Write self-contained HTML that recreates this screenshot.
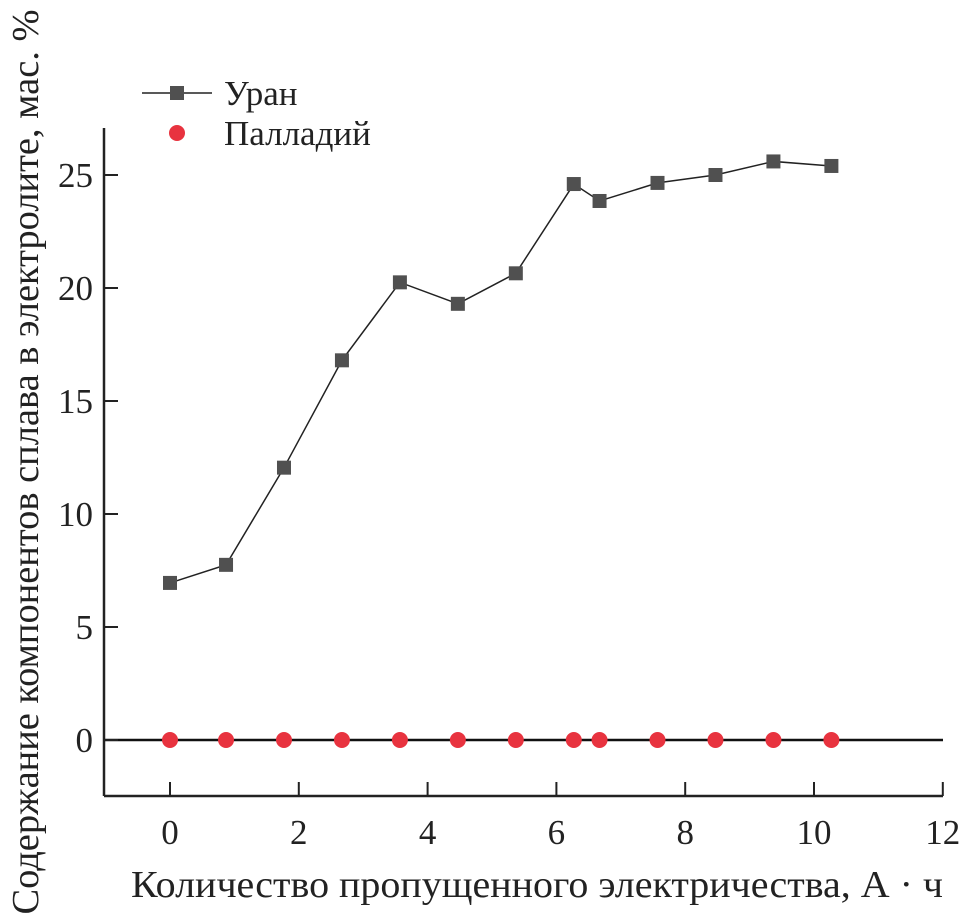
<!DOCTYPE html>
<html><head><meta charset="utf-8"><style>
html,body{margin:0;padding:0;background:#fff;}
svg{display:block;font-family:"Liberation Serif",serif;}
</style></head><body>
<svg id="chart" width="962" height="923" viewBox="0 0 962 923" xmlns="http://www.w3.org/2000/svg">
<g id="axes"></g>
<g id="marks"></g>
<text x="537" y="897" font-size="38" text-anchor="middle" fill="#222" textLength="812" lengthAdjust="spacingAndGlyphs">Количество пропущенного электричества, А · ч</text>
<text transform="translate(38,462) rotate(-90)" font-size="38" text-anchor="middle" fill="#222" textLength="905" lengthAdjust="spacingAndGlyphs">Содержание компонентов сплава в электролите, мас. %</text>
<g>
<line x1="142" y1="93" x2="212" y2="93" stroke="#222" stroke-width="1.5"/>
<rect x="170" y="86" width="14" height="14" fill="#505050"/>
<text x="224" y="105" font-size="35" fill="#222">Уран</text>
<circle cx="177" cy="133" r="8" fill="#e8333f"/>
<text x="224" y="145" font-size="35" fill="#222">Палладий</text>
</g>
</svg>
<script>
const xValues = [0, 0.87, 1.77, 2.67, 3.57, 4.47, 5.37, 6.27, 6.67, 7.57, 8.47, 9.37, 10.27];
const uranium = [6.95, 7.75, 12.05, 16.8, 20.25, 19.3, 20.65, 24.6, 23.85, 24.65, 25.0, 25.6, 25.4];
const palladium = [0, 0, 0, 0, 0, 0, 0, 0, 0, 0, 0, 0, 0];
const xTicks = [0, 2, 4, 6, 8, 10, 12];
const yTicks = [0, 5, 10, 15, 20, 25];

const X0 = 104, X1 = 943, Y0 = 796, Y1 = 128;
function sx(v){ return 170 + (v - 0) * 64.4; }
function sy(v){ return 740 - v * 22.6; }
const NS = "http://www.w3.org/2000/svg";
function mk(tag, attrs, parent){ const e = document.createElementNS(NS, tag); for (const k in attrs) e.setAttribute(k, attrs[k]); parent.appendChild(e); return e; }
const axes = document.getElementById('axes');
const marks = document.getElementById('marks');

let e = mk('line', {x1:X0, y1:Y1, x2:X0, y2:Y0, stroke:'#222', 'stroke-width':2.5}, axes);


e = mk('line', {x1:X0, y1:Y0, x2:X1, y2:Y0, stroke:'#222', 'stroke-width':2.5}, axes);


e = mk('line', {x1:X0, y1:sy(0), x2:X1, y2:sy(0), stroke:'#111', 'stroke-width':2.5}, axes);



xTicks.forEach(t => {
  let l = mk('line', {x1:sx(t), y1:Y0, x2:sx(t), y2:Y0-14, stroke:'#222', 'stroke-width':2}, axes);
  
  
  let tx = mk('text', {x:sx(t), y:Y0+48, 'font-size':35, 'text-anchor':'middle', fill:'#222'}, axes);
  tx.textContent = t;
  
  
});
yTicks.forEach(t => {
  let l = mk('line', {x1:X0, y1:sy(t), x2:X0+14, y2:sy(t), stroke:'#222', 'stroke-width':2}, axes);
  
  
  let tx = mk('text', {x:93, y:sy(t)+12, 'font-size':35, 'text-anchor':'end', fill:'#222'}, axes);
  tx.textContent = t;
  
  
});

const pts = xValues.map((x,i) => sx(x) + ',' + sy(uranium[i])).join(' ');
let pl = mk('polyline', {points:pts, fill:'none', stroke:'#222', 'stroke-width':1.5}, marks);


xValues.forEach((x,i) => {
  let r = mk('rect', {x:sx(x)-7, y:sy(uranium[i])-7, width:14, height:14, fill:'#505050'}, marks);
  
  
});
xValues.forEach((x,i) => {
  let c = mk('circle', {cx:sx(x), cy:sy(palladium[i]), r:8, fill:'#e8333f'}, marks);
  
  
});
</script>
</body></html>
